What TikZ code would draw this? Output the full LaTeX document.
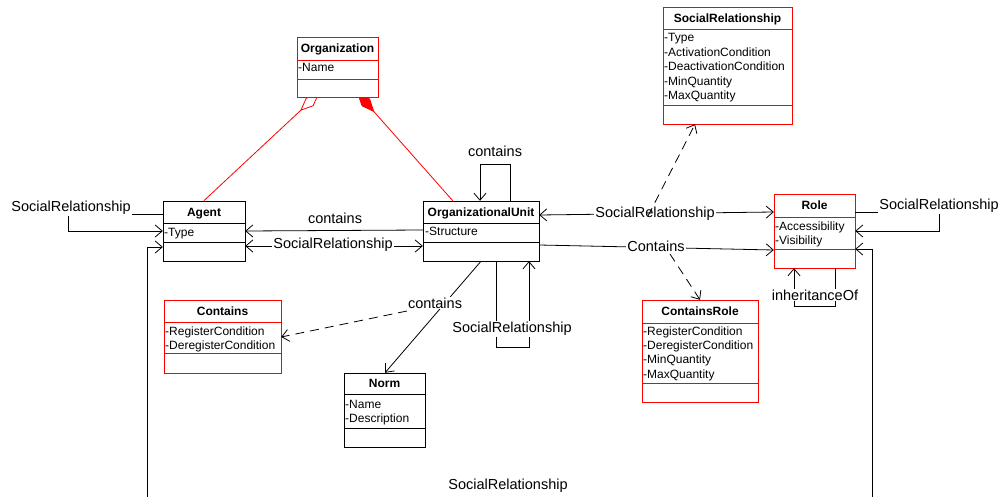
\documentclass[tikz,border=0pt]{standalone}
\usepackage{fontspec}
\setmainfont{Liberation Sans}
\usetikzlibrary{arrows.meta,fit}
\pgfdeclarelayer{bg}
\pgfsetlayers{bg,main}
\tikzset{
  ln/.style={line width=0.8pt},
  clsline/.style={line width=0.8pt},
  arr/.style={-{Straight Barb[length=7pt,width=12pt]}},
  arrboth/.style={{Straight Barb[length=7pt,width=12pt]}-{Straight Barb[length=7pt,width=12pt]}},
  dsh/.style={dash pattern=on 9pt off 6pt},
  lbl/.style={font=\fontsize{14.5}{17}\selectfont, fill=white, inner sep=1pt},
  titletext/.style={font=\fontsize{12}{14}\selectfont\bfseries, inner sep=0pt, anchor=base},
  attrtext/.style={font=\fontsize{12}{14}\selectfont, inner sep=0pt, anchor=base west},
}
% #1 name #2 color #3 x1 #4 y1 #5 x2 #6 ytitle #7 yattr #8 y2 #9 title
\newcommand{\umlclass}[9]{%
  \draw[clsline,draw=#2,fill=white] (#3,#4) rectangle (#5,#8);
  \draw[clsline,draw=#2] (#3,#6) -- (#5,#6);
  \draw[clsline,draw=#2] (#3,#7) -- (#5,#7);
  \node[fit={(#3,#4)(#5,#8)},inner sep=0pt] (#1) {};
  \node[titletext] (#1-title) at ({(#3+#5)/2},{(#4+#6)/2+4.3}) {#9};
}
\newcommand{\attrlines}[3]{%
  \foreach \t [count=\i] in {#3} {\node[attrtext] at (#1,{#2+(\i-1)*14.4}) {\t};}
}
\begin{document}
\begin{tikzpicture}[x=1pt,y=-1pt]
\useasboundingbox (0,0) rectangle (1008,497);
\begin{pgfonlayer}{bg}
\fill[white] (0,0) rectangle (1008,497);
\end{pgfonlayer}

% classes
\umlclass{org}{red}{297}{37}{378}{60}{79}{97}{Organization}
\attrlines{298}{72}{-Name}
\umlclass{srel}{red}{663}{7}{792}{29}{105}{124}{SocialRelationship}
\attrlines{664}{42}{-Type,-ActivationCondition,-DeactivationCondition,-MinQuantity,-MaxQuantity}
\umlclass{agent}{black}{163}{201}{245}{223}{242}{261}{Agent}
\attrlines{164}{236}{-Type}
\umlclass{ou}{black}{423}{201}{539}{223}{242}{261}{OrganizationalUnit}
\attrlines{425}{235}{-Structure}
\umlclass{role}{red}{774}{194}{855}{217}{249}{268}{Role}
\attrlines{775}{230}{-Accessibility,-Visibility}
\umlclass{contains}{red}{164}{300}{281}{322}{353}{373}{Contains}
\attrlines{165}{335}{-RegisterCondition,-DeregisterCondition}
\umlclass{norm}{black}{344}{373}{425}{394}{428}{447}{Norm}
\attrlines{345}{408}{-Name,-Description}
\umlclass{crole}{red}{642}{300}{758}{323}{383}{402}{ContainsRole}
\attrlines{643}{335}{-RegisterCondition,-DeregisterCondition,-MinQuantity,-MaxQuantity}

% aggregation / composition (diamonds half hidden under the Organization box)
\begin{pgfonlayer}{bg}
\draw[red,ln,{Diamond[open,fill=white,length=26pt,width=11pt]}-] ([shift={(22.4,-4.1)}]org.south west) -- ([xshift=41pt]agent.north west);
\draw[red,ln,{Diamond[length=26pt,width=11pt]}-] ([shift={(-21,-4.5)}]org.south east) -- ([xshift=30pt]ou.north west);
\end{pgfonlayer}

% Agent left self loop
\draw[ln,arr] (agent.west |- 0,214) -- (68,214) -- (68,231) -- (agent.west |- 0,231);
\node[lbl] (lagent) at (71,208) {SocialRelationship};

% contains OU -> Agent
\draw[ln,arr] (ou.west |- 0,230) -- (agent.east |- 0,231);
\node[lbl] (lcont1) at (335,218) {contains};

% SocialRelationship Agent <-> OU
\draw[ln,arrboth] (agent.east |- 0,246) -- (ou.west |- 0,246);
\node[lbl] (lsr1) at (333,245) {SocialRelationship};

% OU top loop
\draw[ln,arr] (ou.north -| 510,0) -- (510,164) -- (480,164) -- (ou.north -| 480,0);
\node[lbl] (lcont2) at (495,151) {contains};

% OU bottom loop
\draw[ln,arr] (ou.south -| 496,0) -- (496,347) -- (529,347) -- (ou.south -| 529,0);
\node[lbl] (lsr2) at (512,329) {SocialRelationship};

% OU -> Norm
\draw[ln,arr] (ou.south -| 481,0) -- (norm.north -| 385,0);
\node[lbl] (lcont3) at (435,303) {contains};
\coordinate (c3) at (407,311);
\draw[ln,dsh,arr] (c3) -- (contains.east |- 0,337);

% OU <-> Role SocialRelationship
\draw[ln,arrboth] (ou.east |- 0,215) -- (role.west |- 0,212);
\node[lbl] (lsr3) at (655,214) {SocialRelationship};
\coordinate (c4) at (648,216);
\draw[ln,dsh,arr] (c4) -- (srel.south -| 695,0);

% OU -> Role Contains
\draw[ln,arr] (ou.east |- 0,245) -- (role.west |- 0,250);
\node[lbl] (lcont4) at (656,246) {Contains};
\coordinate (c5) at (670,254);
\draw[ln,dsh,arr] (c5) -- (crole.north -| 700,0);

% Role right loop
\draw[ln,arr] (role.east |- 0,212) -- (939,212) -- (939,231) -- (role.east |- 0,231);
\node[lbl] (lsr4) at (939,206) {SocialRelationship};

% Role bottom loop
\draw[ln,arr] (role.south -| 835,0) -- (835,306) -- (794,306) -- (role.south -| 794,0);
\node[lbl] (linh) at (815,295) {inheritanceOf};

% big bottom loop
\draw[ln,arrboth] (agent.west |- 0,247) -- (147,247) -- (147,510) -- (872,510) -- (872,249) -- (role.east |- 0,249);
\node[lbl] (lsr5) at (508,486) {SocialRelationship};
\end{tikzpicture}
\end{document}
